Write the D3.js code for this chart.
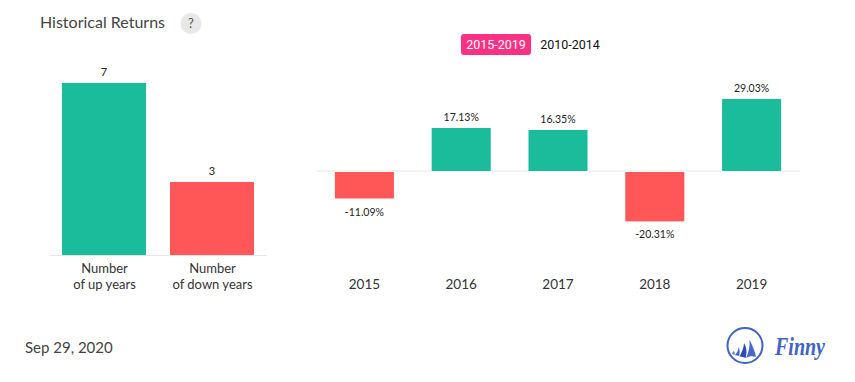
<!DOCTYPE html>
<html><head><meta charset="utf-8">
<script src="https://cdn.jsdelivr.net/npm/d3@7/dist/d3.min.js"></script>
<style>html,body{margin:0;padding:0;background:#fff}svg{display:block}text{font-family:Lato,sans-serif}</style>
</head><body><svg id="c" width="855" height="382"></svg>
<script>
const countCategories = ["Number\nof up years", "Number\nof down years"];
const countValues = [7, 3];
const years = ["2015", "2016", "2017", "2018", "2019"];
const returns = [-11.09, 17.13, 16.35, -20.31, 29.03];
const rangeButtons = ["2015-2019", "2010-2014"];
const UP = "#1abc9c", DOWN = "#ff5757", AXIS = "#e6e6e6";
const svg = d3.select("#c");

svg.append("text").attr("x", 40).attr("y", 28).attr("font-size", 16).attr("fill", "#444").text("Historical Returns");
svg.append("circle").attr("cx", 191).attr("cy", 23.5).attr("r", 10.5).attr("fill", "#e8e8e8");
svg.append("text").attr("x", 191).attr("y", 28).attr("text-anchor", "middle").attr("font-size", 13).attr("fill", "#555").text("?");

// left panel
const x1 = d3.scaleBand().domain(countCategories).range([50, 266]).paddingInner(0.222).paddingOuter(0.111);
const y1 = d3.scaleLinear().domain([0, 7]).range([255, 83]);
const top1 = d => Math.ceil(y1(d));
svg.append("line").attr("x1", 50).attr("x2", 267).attr("y1", 255.5).attr("y2", 255.5).attr("stroke", AXIS);
svg.selectAll(".cbar").data(countValues).join("rect").attr("class", "cbar")
  .attr("x", (d, i) => x1(countCategories[i])).attr("width", x1.bandwidth())
  .attr("y", d => top1(d)).attr("height", d => y1(0) - top1(d))
  .attr("fill", (d, i) => i === 0 ? UP : DOWN);
svg.selectAll(".clab").data(countValues).join("text").attr("class", "clab")
  .attr("x", (d, i) => x1(countCategories[i]) + x1.bandwidth() / 2).attr("y", d => top1(d) - 7)
  .attr("text-anchor", "middle").attr("font-size", 11).attr("fill", "#222").text(d => d);
countCategories.forEach(c => {
  c.split("\n").forEach((t, j) => {
    svg.append("text").attr("x", x1(c) + x1.bandwidth() / 2 + 0.5).attr("y", 273 + j * 16)
      .attr("text-anchor", "middle").attr("font-size", 13).attr("fill", "#333").text(t);
  });
});

// right panel
const x2 = d3.scaleBand().domain(years).range([316, 800]).paddingInner(0.39).paddingOuter(0.195);
const y2 = d3.scaleLinear().domain([0, 29.03]).range([171, 99]);
const topPos = d => Math.floor(y2(d));
svg.append("line").attr("x1", 317).attr("x2", 800).attr("y1", 171).attr("y2", 171).attr("stroke", AXIS);
svg.selectAll(".rbar").data(returns).join("rect").attr("class", "rbar")
  .attr("x", (d, i) => x2(years[i])).attr("width", x2.bandwidth())
  .attr("y", d => d >= 0 ? topPos(d) : y2(0) + 1)
  .attr("height", d => d >= 0 ? y2(0) - topPos(d) : y2(d) - y2(0) - 1)
  .attr("fill", d => d >= 0 ? UP : DOWN)
  .attr("stroke", "#fff").attr("stroke-width", 2).style("paint-order", "stroke");
svg.selectAll(".rlab").data(returns).join("text").attr("class", "rlab")
  .attr("x", (d, i) => x2(years[i]) + x2.bandwidth() / 2)
  .attr("y", d => d >= 0 ? topPos(d) - 7 : y2(d) + 17)
  .attr("text-anchor", "middle").attr("font-size", 10.5).attr("fill", "#222").text(d => d.toFixed(2) + "%");
svg.selectAll(".ylab").data(years).join("text").attr("class", "ylab")
  .attr("x", d => x2(d) + x2.bandwidth() / 2).attr("y", 289)
  .attr("text-anchor", "middle").attr("font-size", 13.5).attr("fill", "#333").text(d => d);

// range toggle
svg.append("rect").attr("x", 461).attr("y", 34).attr("width", 70).attr("height", 21).attr("rx", 3).attr("fill", "#fb3183");
svg.append("text").attr("x", 496).attr("y", 49).attr("text-anchor", "middle").attr("font-size", 12.5)
  .attr("style", "font-family:Roboto,sans-serif").attr("fill", "#fff").text(rangeButtons[0]);
svg.append("text").attr("x", 570).attr("y", 49).attr("text-anchor", "middle").attr("font-size", 12.5)
  .attr("style", "font-family:Roboto,sans-serif").attr("fill", "#111").text(rangeButtons[1]);

// footer
svg.append("text").attr("x", 25).attr("y", 353).attr("font-size", 15).attr("fill", "#444").text("Sep 29, 2020");

// logo
const logo = svg.append("g");
logo.append("circle").attr("cx", 745).attr("cy", 345.5).attr("r", 17.5).attr("fill", "none").attr("stroke", "#3f63c7").attr("stroke-width", 2);
logo.append("path").attr("fill", "#4668cc").attr("d", "M749.5 340 C753 346 755 352 756 357 C752 355.5 749 356 746 358 C749 352 750 346 749.5 340Z");
logo.append("path").attr("fill", "#2a4db5").attr("d", "M744 343 C747 348 747 353 745.5 358 C743 357 741 356.5 739.5 356.5 C742 352 744 347 744 343Z");
logo.append("path").attr("fill", "#3f63c7").attr("d", "M738.5 347 C740 350 740 353 739 356 L735 355 C737 353 738.5 350 738.5 347Z");
logo.append("path").attr("fill", "#5a7dd6").attr("d", "M733.5 351 C735 352 735 353.5 734.5 355 L732 353.5 Z");
logo.append("text").attr("x", 775).attr("y", 355).attr("font-size", 25).attr("font-weight", "bold").attr("font-style", "italic")
  .attr("textLength", 50).attr("lengthAdjust", "spacingAndGlyphs")
  .attr("style", "font-family:'Liberation Serif',serif").attr("fill", "#3f63c7").text("Finny");
</script></body></html>
